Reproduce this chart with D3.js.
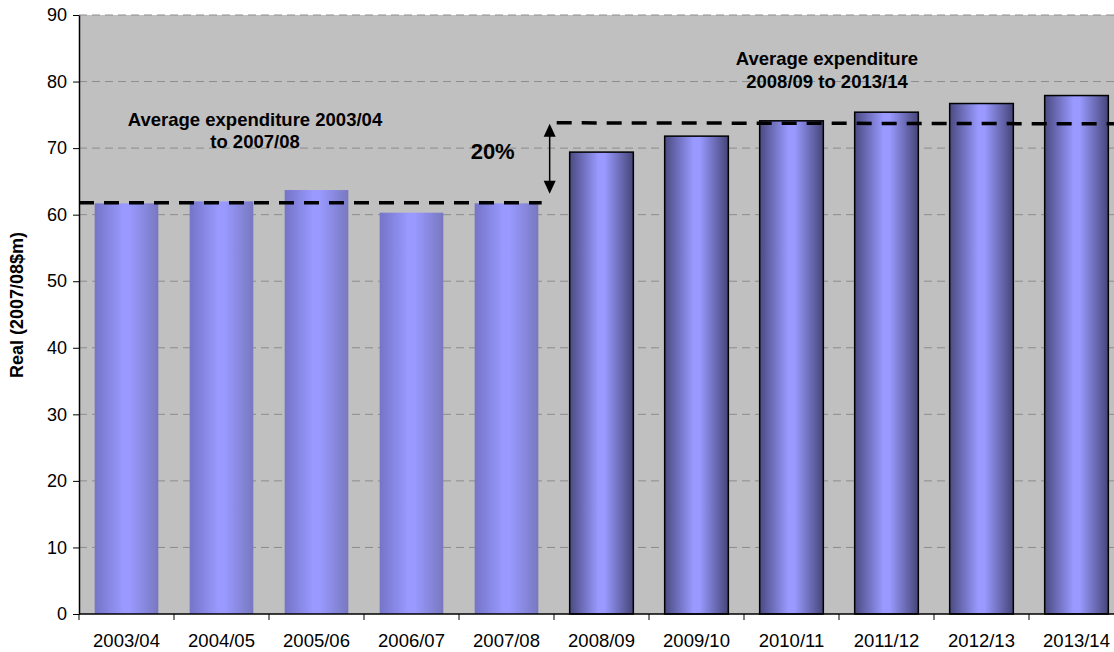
<!DOCTYPE html>
<html>
<head>
<meta charset="utf-8">
<script src="https://cdn.jsdelivr.net/npm/d3@7"></script>
<style>
  html, body { margin: 0; padding: 0; background: #fff; overflow: hidden; }
  svg { display: block; font-family: "Liberation Sans", Arial, sans-serif; }
</style>
</head>
<body>
<svg id="chart" width="1114" height="652"></svg>
<script>
// Real expenditure by financial year (2007/08 $m)
const years = ["2003/04", "2004/05", "2005/06", "2006/07", "2007/08",
               "2008/09", "2009/10", "2010/11", "2011/12", "2012/13", "2013/14"];
const expenditure = [61.7, 62.0, 63.7, 60.3, 61.7, 69.4, 71.8, 74.1, 75.4, 76.7, 77.9];
// true = forecast period (outlined, darker shading)
const forecast = [false, false, false, false, false, true, true, true, true, true, true];
const yTicks = [0, 10, 20, 30, 40, 50, 60, 70, 80, 90];
// Period averages
const avgPast = 61.8;
const avgFuture = 73.8;
const increaseLabel = "20%";

const FONT = "'Liberation Sans', Arial, sans-serif";
const svg = d3.select("#chart");
const margin = { left: 79, top: 15, bottom: 38 };
const plotW = 1045;
const plotH = 652 - margin.top - margin.bottom;

const x = d3.scaleBand().domain(years).range([0, plotW]).paddingInner(0.33).paddingOuter(0.165);
const y = d3.scaleLinear().domain([0, 90]).range([plotH, 0]);

const defs = svg.append("defs");
function gradient(id, edgeL, mid, edgeR) {
  const g = defs.append("linearGradient").attr("id", id).attr("x1", "0").attr("x2", "1").attr("y1", "0").attr("y2", "0");
  g.append("stop").attr("offset", "0%").attr("stop-color", edgeL);
  g.append("stop").attr("offset", "45%").attr("stop-color", mid);
  g.append("stop").attr("offset", "55%").attr("stop-color", mid);
  g.append("stop").attr("offset", "100%").attr("stop-color", edgeR);
}
gradient("gradPast", "#7474c8", "#9999ff", "#7878c0");
gradient("gradFuture", "#4a4a82", "#9999ff", "#454578");

const g = svg.append("g").attr("transform", `translate(${margin.left},${margin.top})`);

// plot background
g.append("rect").attr("width", plotW).attr("height", plotH).attr("fill", "#c0c0c0");

// horizontal gridlines
g.selectAll("line.grid").data(yTicks.filter(d => d > 0)).join("line")
  .attr("class", "grid")
  .attr("x1", 0).attr("x2", plotW)
  .attr("y1", d => y(d)).attr("y2", d => y(d))
  .attr("stroke", "#8c8c8c").attr("stroke-width", 1)
  .attr("stroke-dasharray", "8,5");

// bars
g.selectAll("rect.bar").data(years).join("rect")
  .attr("class", "bar")
  .attr("x", d => x(d))
  .attr("width", x.bandwidth())
  .attr("y", (d, i) => y(expenditure[i]))
  .attr("height", (d, i) => plotH - y(expenditure[i]))
  .attr("fill", (d, i) => forecast[i] ? "url(#gradFuture)" : "url(#gradPast)")
  .attr("stroke", (d, i) => forecast[i] ? "#000" : "none")
  .attr("stroke-width", 1.5);

// y axis
const yAxis = g.append("g").call(d3.axisLeft(y).tickValues(yTicks).tickSize(6).tickPadding(6).tickSizeOuter(0));
yAxis.attr("font-family", FONT).attr("font-size", 18);
yAxis.select(".domain").attr("stroke", "#000").attr("stroke-width", 1.5);
yAxis.selectAll(".tick line").attr("stroke", "#000");
yAxis.selectAll("text").attr("fill", "#000");

// x axis with ticks at category boundaries
const xAxisG = g.append("g").attr("transform", `translate(0,${plotH})`);
xAxisG.append("line").attr("x1", 0).attr("x2", plotW).attr("stroke", "#000").attr("stroke-width", 1.5);
xAxisG.selectAll("line.tk").data(d3.range(years.length + 1)).join("line")
  .attr("class", "tk")
  .attr("x1", i => i * x.step()).attr("x2", i => i * x.step())
  .attr("y1", 0).attr("y2", 6).attr("stroke", "#000");
xAxisG.selectAll("text").data(years).join("text")
  .attr("x", d => x(d) + x.bandwidth() / 2)
  .attr("y", 33)
  .attr("text-anchor", "middle")
  .style("font-size", "18.5px")
  .text(d => d);

// y axis title
svg.append("text")
  .attr("transform", "translate(23,305) rotate(-90)")
  .attr("text-anchor", "middle")
  .style("font-size", "18px")
  .attr("font-weight", "bold")
  .text("Real (2007/08$m)");

// average lines
const firstFuture = years[forecast.indexOf(true)];
const pastEnd = x(firstFuture) - 28;
g.append("line")
  .attr("x1", 0).attr("x2", pastEnd)
  .attr("y1", y(avgPast)).attr("y2", y(avgPast))
  .attr("stroke", "#000").attr("stroke-width", 3.5).attr("stroke-dasharray", "15,10");
g.append("line")
  .attr("x1", pastEnd + 15).attr("x2", plotW)
  .attr("y1", y(avgFuture)).attr("y2", y(avgFuture) + 1)
  .attr("stroke", "#000").attr("stroke-width", 3.5).attr("stroke-dasharray", "15,10");

// double-headed arrow between averages
const ax = pastEnd + 8;
const yTop = y(avgFuture) + 1, yBot = y(avgPast) - 9;
g.append("line").attr("x1", ax).attr("x2", ax).attr("y1", yTop + 10).attr("y2", yBot - 10)
  .attr("stroke", "#000").attr("stroke-width", 1.5);
g.append("path").attr("d", `M${ax},${yTop} L${ax - 6},${yTop + 13} L${ax + 6},${yTop + 13} Z`).attr("fill", "#000");
g.append("path").attr("d", `M${ax},${yBot} L${ax - 6},${yBot - 13} L${ax + 6},${yBot - 13} Z`).attr("fill", "#000");

// annotations
g.append("text")
  .attr("x", ax - 57).attr("y", y((avgPast + avgFuture) / 2) - 4)
  .attr("text-anchor", "middle").style("font-size", "22px").attr("font-weight", "bold")
  .text(increaseLabel);

const note1 = g.append("text").attr("text-anchor", "middle").style("font-size", "18.5px").attr("font-weight", "bold");
note1.append("tspan").attr("x", 176).attr("y", 111).text("Average expenditure 2003/04");
note1.append("tspan").attr("x", 176).attr("y", 133).text("to 2007/08");

const note2 = g.append("text").attr("text-anchor", "middle").style("font-size", "18.5px").attr("font-weight", "bold");
note2.append("tspan").attr("x", 748).attr("y", 50).text("Average expenditure");
note2.append("tspan").attr("x", 748).attr("y", 73).text("2008/09 to 2013/14");
</script>
</body>
</html>
